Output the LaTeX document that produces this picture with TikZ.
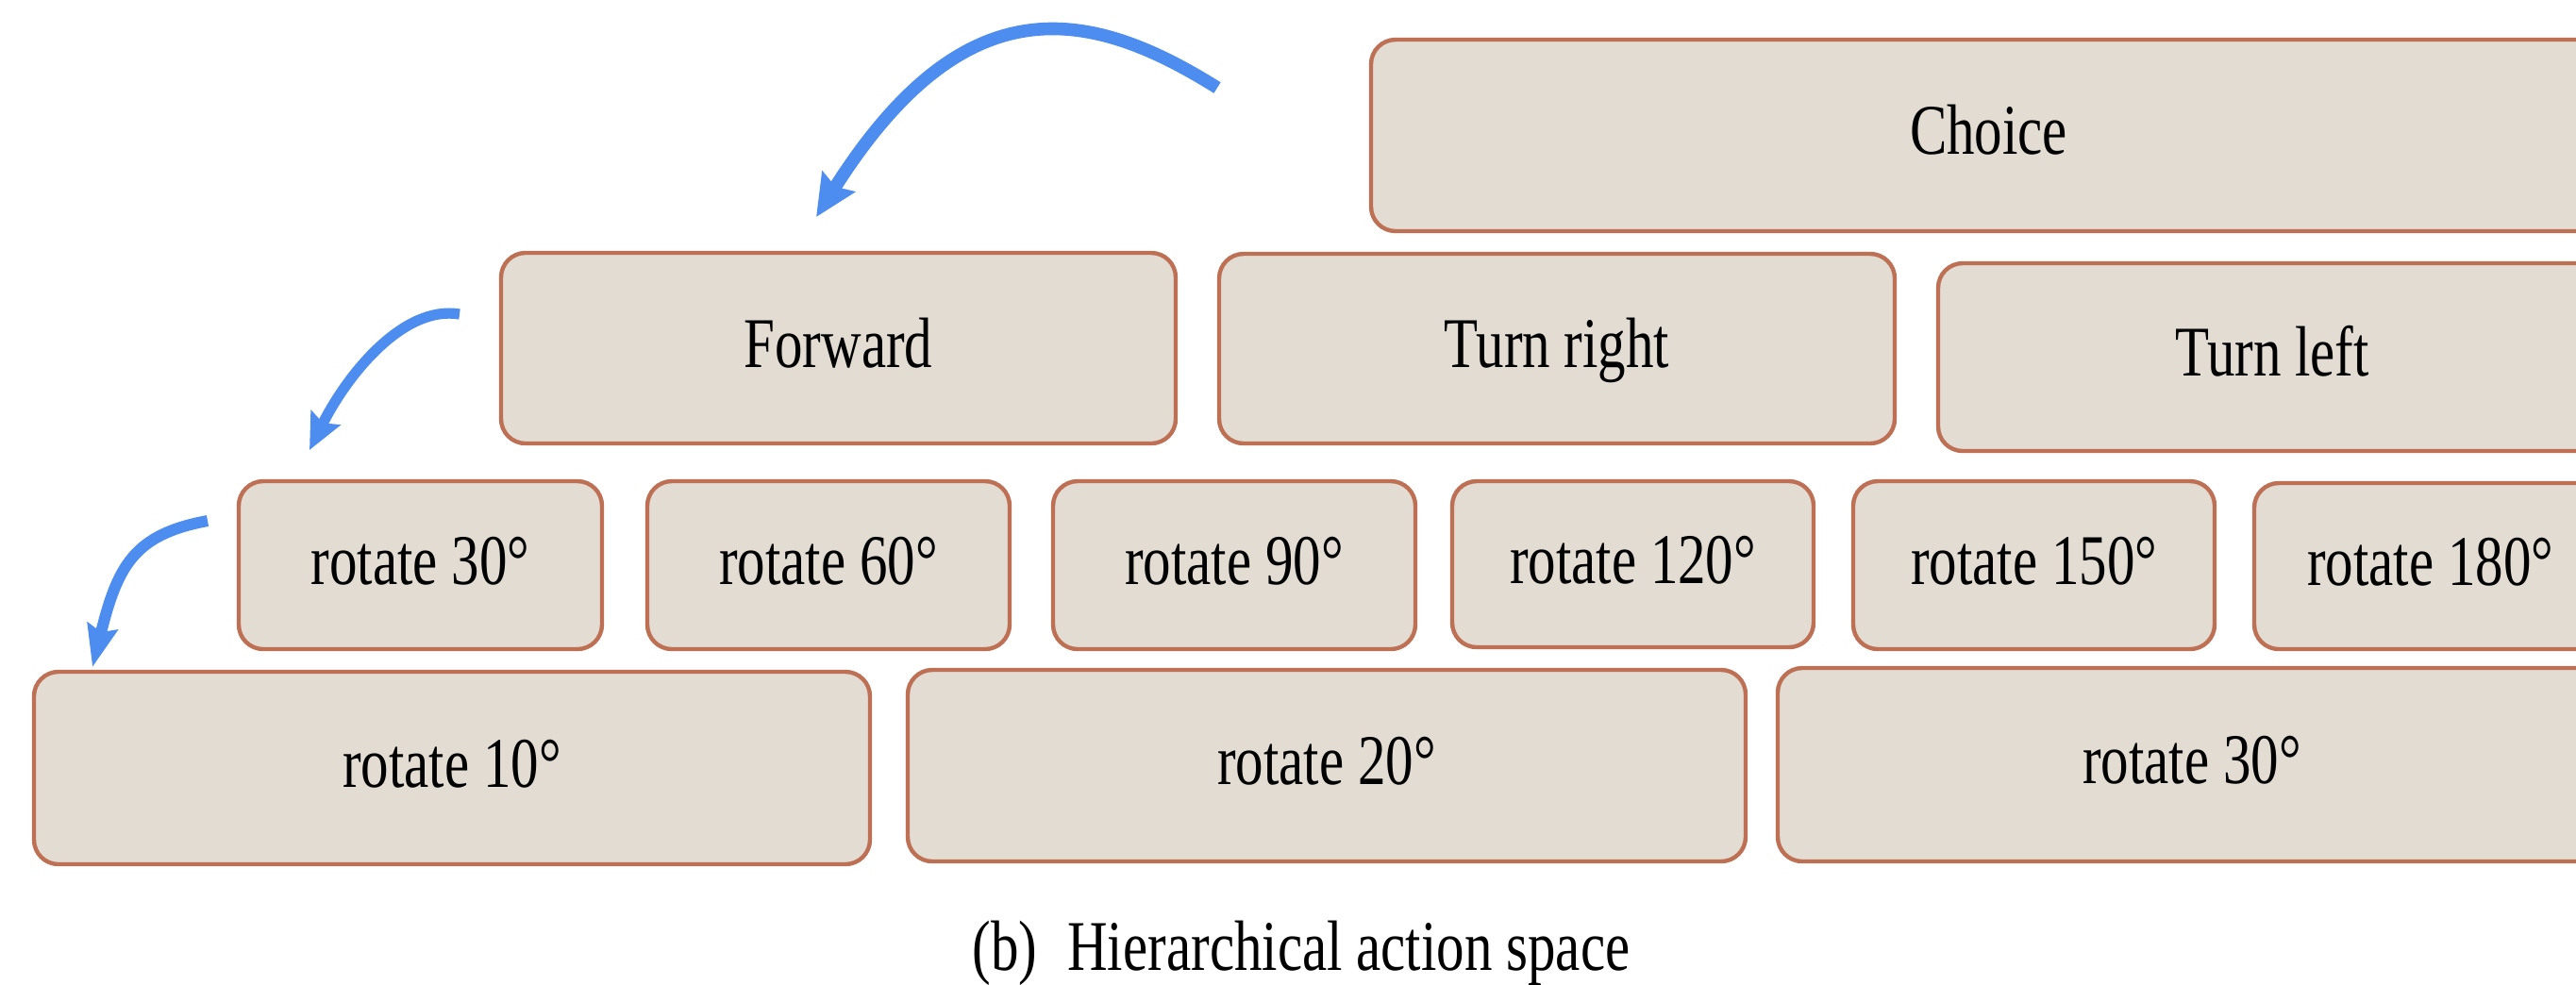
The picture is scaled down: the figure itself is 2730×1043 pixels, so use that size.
\documentclass[tikz,border=0pt]{standalone}
\usepackage{fontspec}
\setmainfont[FakeStretch=0.78]{Liberation Serif}
\usetikzlibrary{arrows.meta}
\definecolor{boxfill}{RGB}{226,220,211}
\definecolor{boxline}{RGB}{190,112,85}
\definecolor{arrowblue}{RGB}{77,141,240}
\newcommand\hbbox[6]{\node[abox, minimum width={(#4-#2)*0.25pt}, minimum height={(#5-#3)*0.25pt}] (#1) at ({(#2+#4)/2},{(#3+#5)/2}) {#6};}
\begin{document}
\begin{tikzpicture}[x=0.25pt,y=-0.25pt,
  abox/.style={draw=boxline, fill=boxfill, line width=1.1pt, rounded corners=6.5pt,
    inner sep=0pt, outer sep=0pt, font=\fontsize{18.9pt}{22pt}\selectfont,
    text height=10pt, text depth=0pt, align=center},
  bluearrow/.style={draw=arrowblue, line width=#1},
  caption/.style={font=\fontsize{18.9pt}{22pt}\selectfont, inner sep=0pt, anchor=base}]
\useasboundingbox (0,0) rectangle (2730,1043);
\clip (0,0) rectangle (2730,1043);
\fill[white] (0,0) rectangle (2730,1043);
% row 1
\hbbox{choice}{1453}{42}{2762}{245}{Choice}
% row 2
\hbbox{fwd}{531}{268}{1246}{470}{Forward}
\hbbox{tright}{1292}{269}{2008}{470}{Turn right}
\hbbox{tleft}{2054}{279}{2762}{478}{Turn left}
% row 3
\hbbox{ra}{253}{510}{638}{688}{rotate 30°}
\hbbox{rb}{686}{510}{1070}{688}{rotate 60°}
\hbbox{rc}{1116}{510}{1500}{688}{rotate 90°}
\hbbox{rd}{1539}{510}{1922}{686}{rotate 120°}
\hbbox{re}{1964}{510}{2347}{688}{rotate 150°}
\hbbox{rf}{2389}{512}{2762}{688}{rotate 180°}
% row 4
\hbbox{sa}{36}{712}{922}{916}{rotate 10°}
\hbbox{sb}{962}{710}{1850}{913}{rotate 20°}
\hbbox{sc}{1884}{708}{2762}{913}{rotate 30°}
% caption
\node[caption] (cap) at (1379,1028) {(b)\hspace{8pt}Hierarchical action space};
% arrows
\coordinate (a1s) at (1290,93);
\coordinate (a1e) at (865,230);
\coordinate (a2s) at (487,333);
\coordinate (a2e) at (328,477);
\coordinate (a3s) at (220,552);
\coordinate (a3e) at (98,707);
\draw[bluearrow=3.4pt, -{Stealth[length=11pt,width=10pt,inset=1.5pt]}]
  (a1s) .. controls (1150,5) and (1020,-15) .. (a1e);
\draw[bluearrow=2.8pt, -{Stealth[length=9.5pt,width=8.5pt,inset=1.5pt]}]
  (a2s) .. controls (428,323) and (368.5,396) .. (a2e);
\draw[bluearrow=3pt, -{Stealth[length=11pt,width=8pt,inset=1.5pt]}]
  (a3s) .. controls (141.6,566.4) and (124.4,600.3) .. (a3e);
\end{tikzpicture}
\end{document}
